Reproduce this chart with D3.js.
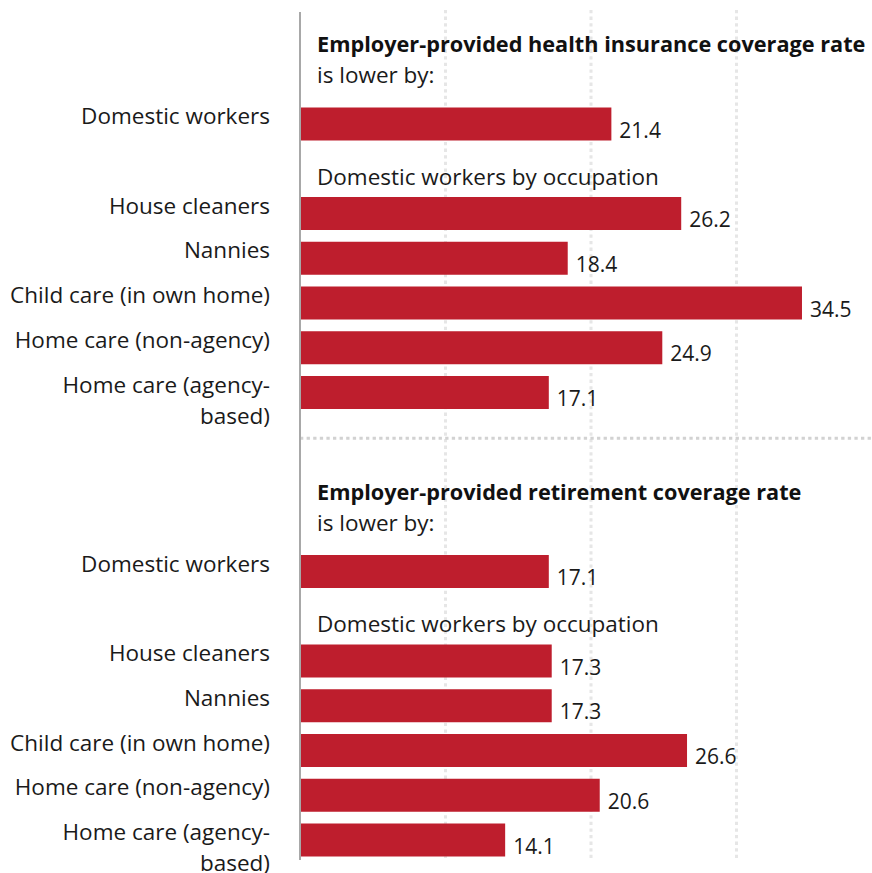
<!DOCTYPE html>
<html>
<head>
<meta charset="utf-8">
<script src="https://cdn.jsdelivr.net/npm/d3@7"></script>
<style>
  html, body { margin: 0; padding: 0; background: #fff; }
  svg { display: block; font-family: "Open Sans", "Lato", sans-serif; }
</style>
</head>
<body>
<svg id="chart" width="872" height="873"></svg>
<script>
// Percentage-point gaps in employer-provided coverage, domestic workers vs. other workers
const sectionTitles = [
  ["Employer-provided health insurance coverage rate", "is lower by:"],
  ["Employer-provided retirement coverage rate", "is lower by:"]
];
const subHeader = "Domestic workers by occupation";
const categories = [
  "Domestic workers",
  "House cleaners",
  "Nannies",
  "Child care (in own home)",
  "Home care (non-agency)",
  "Home care (agency-based)"
];
const healthValues = [21.4, 26.2, 18.4, 34.5, 24.9, 17.1];
const retirementValues = [17.1, 17.3, 17.3, 26.6, 20.6, 14.1];
const gridTicks = [10, 20, 30];

const svg = d3.select("#chart");
const barColor = "#be1e2d";
const textColor = "#1a1a1a";
const labelSize = 22.5;
const titleSize = 21.7;
const valueSize = 21;

// Horizontal value scale
const x = d3.scaleLinear().domain([0, 35]).range([300, 300 + 35 * 14.55]);
// Vertical slot scale: each row, sub-header and gap takes one slot
const slot = d3.scaleLinear().domain([0, 16]).range([124, 840]);
const barH = 33;

// Section layout: slot of the aggregate row, then sub-header, then occupations
const sections = [
  { title: sectionTitles[0], values: healthValues, start: 0 },
  { title: sectionTitles[1], values: retirementValues, start: 10 }
];

// Dotted gridlines
svg.append("g")
  .selectAll("line")
  .data(gridTicks)
  .join("line")
  .attr("x1", d => x(d)).attr("x2", d => x(d))
  .attr("y1", 10).attr("y2", 860)
  .attr("stroke", "#e6e6e6")
  .attr("stroke-width", 3)
  .attr("stroke-dasharray", "3.3,3.3");

// Dotted separator between the two sections
svg.append("line")
  .attr("x1", x(0)).attr("x2", 872)
  .attr("y1", slot(7) + 1).attr("y2", slot(7) + 1)
  .attr("stroke", "#d2d2d2")
  .attr("stroke-width", 3)
  .attr("stroke-dasharray", "3.3,3.3");

const rowSlots = s => [s.start, s.start + 2, s.start + 3, s.start + 4, s.start + 5, s.start + 6];

sections.forEach(sec => {
  const g = svg.append("g");
  const slots = rowSlots(sec);
  const rows = categories.map((c, i) => ({ cat: c, value: sec.values[i], y: slot(slots[i]) }));

  // Section title (bold first line, regular second line)
  const ty = slot(sec.start) - 72;
  g.append("text")
    .attr("x", 317).attr("y", ty)
    .attr("font-size", titleSize).attr("font-weight", 700)
    .attr("fill", "#111")
    .text(sec.title[0]);
  g.append("text")
    .attr("x", 317).attr("y", ty + 31)
    .attr("font-size", labelSize)
    .attr("fill", textColor)
    .text(sec.title[1]);

  // Sub-header above the occupation rows
  g.append("text")
    .attr("x", 317).attr("y", slot(sec.start + 1) + 16)
    .attr("font-size", labelSize)
    .attr("fill", textColor)
    .text(subHeader);

  // Bars
  g.selectAll("rect")
    .data(rows)
    .join("rect")
    .attr("x", x(0))
    .attr("y", d => d.y - barH / 2)
    .attr("width", d => x(d.value) - x(0))
    .attr("height", barH)
    .attr("fill", barColor);

  // Value labels
  g.selectAll("text.value")
    .data(rows)
    .join("text")
    .attr("class", "value")
    .attr("x", d => x(d.value) + 8)
    .attr("y", d => d.y + barH / 2 - 3)
    .attr("font-size", valueSize)
    .attr("fill", textColor)
    .text(d => d.value.toFixed(1));

  // Category labels (wrapped where needed)
  const labels = g.selectAll("text.cat")
    .data(rows)
    .join("text")
    .attr("class", "cat")
    .attr("text-anchor", "end")
    .attr("font-size", labelSize)
    .attr("fill", textColor);
  labels.each(function (d) {
    const lines = d.cat === "Home care (agency-based)"
      ? ["Home care (agency-", "based)"] : [d.cat];
    d3.select(this).selectAll("tspan")
      .data(lines)
      .join("tspan")
      .attr("x", 270)
      .attr("y", (l, i) => d.y + i * 31)
      .text(l => l);
  });
});

// Vertical baseline axis
svg.append("line")
  .attr("x1", x(0)).attr("x2", x(0))
  .attr("y1", 12).attr("y2", 860)
  .attr("stroke", "#a8a8a8")
  .attr("stroke-width", 2);
</script>
</body>
</html>
